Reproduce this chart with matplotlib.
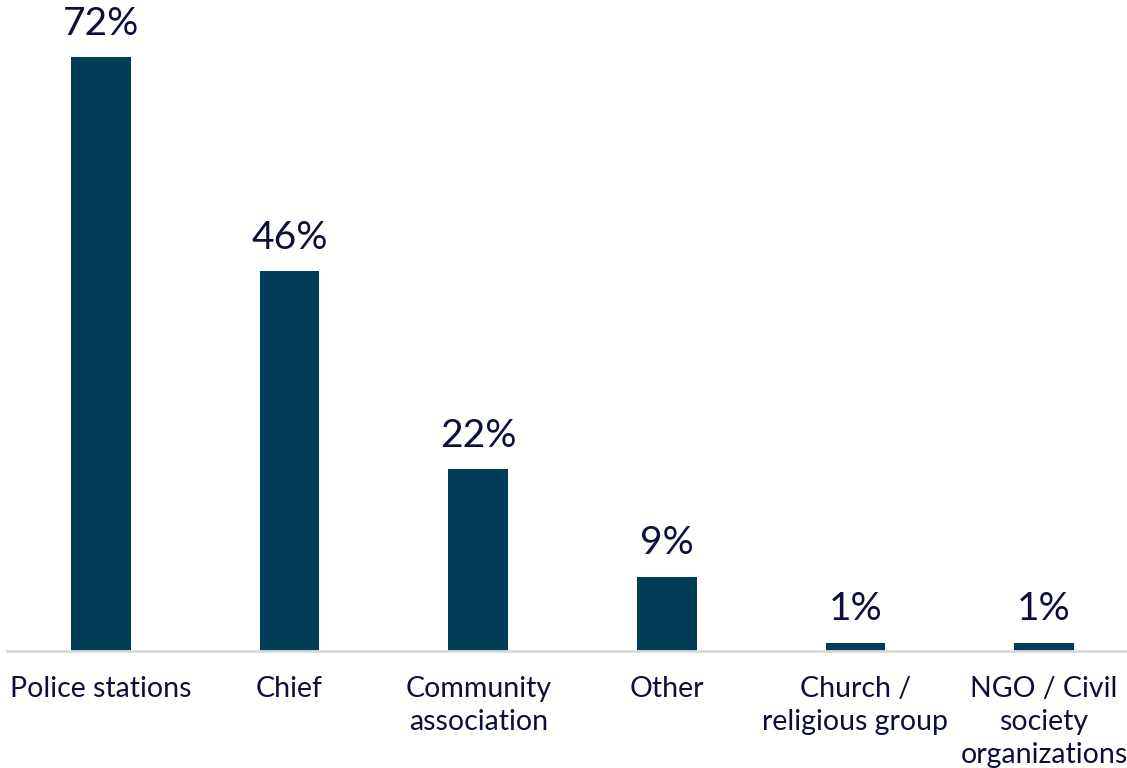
import matplotlib
matplotlib.use("Agg")
from matplotlib import pyplot as plt

categories = ["Police stations", "Chief", "Community\nassociation", "Other",
              "Church /\nreligious group", "NGO / Civil\nsociety\norganizations"]
values = [72, 46, 22, 9, 1, 1]

BAR = "#023d57"
TXT = "#0e0e3a"

plt.rcParams['font.family'] = ['Lato', 'DejaVu Sans']

fig = plt.figure(figsize=(11.27, 7.68), dpi=100)
# category spacing ~188.6 px, first centre at x=101
ax = fig.add_axes([6.7 / 1127, 117 / 768, 1131.6 / 1127, 651 / 768])

x = range(len(values))
ax.bar(x, values, width=0.315, color=BAR)

for xi, v in zip(x, values):
    ax.annotate(f"{v}%", (xi, v), xytext=(0, 11), textcoords="offset points",
                ha="center", va="bottom", fontsize=28, color=TXT)

ax.set_xlim(-0.5, 5.5)
ax.set_ylim(0, 78.9)
ax.set_xticks(list(x))
ax.set_xticklabels(categories, fontsize=20.5, color=TXT, linespacing=1.33)
ax.tick_params(axis='x', length=0, pad=18)
ax.set_yticks([])
for s in ['top', 'right', 'left']:
    ax.spines[s].set_visible(False)
ax.spines['bottom'].set_color("#d9d9d9")
ax.spines['bottom'].set_linewidth(2)

fig.savefig("out.png", dpi=100)
